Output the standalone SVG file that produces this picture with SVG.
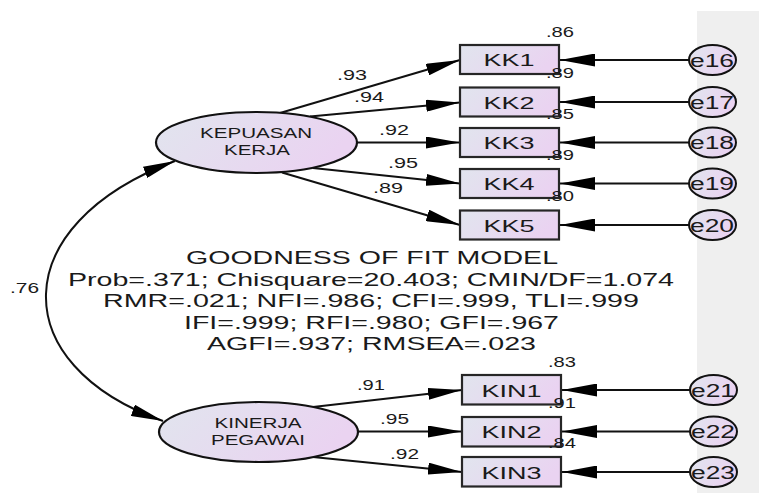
<svg xmlns="http://www.w3.org/2000/svg" width="759" height="493" viewBox="0 0 759 493">
<style>
  text { font-family: "Liberation Sans", Arial, sans-serif; fill: #1a1a1a; }
  .box { fill: url(#g); stroke: #262626; stroke-width: 2.2; }
  .lat { fill: url(#g); stroke: #111; stroke-width: 2.2; }
  .err { fill: url(#g); stroke: #111; stroke-width: 2; }
  .c { fill: none; stroke: #111; stroke-width: 2; }
  .lbl { font-size: 17px; text-anchor: middle; }
  .el { font-size: 18px; text-anchor: middle; }
  .ll { font-size: 14px; text-anchor: middle; }
  .num { font-size: 15px; }
  .res { font-size: 15px; text-anchor: end; }
  .fit { font-size: 19px; text-anchor: middle; }
</style>
<defs>
  <linearGradient id="g" x1="0" y1="0" x2="1" y2="0.3">
    <stop offset="0" stop-color="#e1e5ee"/>
    <stop offset="1" stop-color="#ead3f1"/>
  </linearGradient>
  <marker id="a" markerUnits="userSpaceOnUse" markerWidth="34" markerHeight="12" refX="34" refY="6" orient="auto">
    <path d="M0,0 L34,6 L0,12 Z" fill="#000"/>
  </marker>
  <marker id="as" markerUnits="userSpaceOnUse" markerWidth="32" markerHeight="12" refX="32" refY="6" orient="auto-start-reverse">
    <path d="M0,0 L32,6 L0,12 Z" fill="#000"/>
  </marker>
  <marker id="ae" markerUnits="userSpaceOnUse" markerWidth="35" markerHeight="13" refX="35" refY="6.5" orient="auto">
    <path d="M0,0 L35,6.5 L0,13 Z" fill="#000"/>
  </marker>
</defs>
<rect x="697" y="11" width="62" height="482" fill="#efefef"/>

<g id="connectors">
  <path class="c" d="M175,161 C5,225 5,365 163,421" marker-start="url(#as)" marker-end="url(#as)"/>
  <line class="c" x1="280" y1="113" x2="460" y2="60" marker-end="url(#a)"/>
  <line class="c" x1="310" y1="116.5" x2="460" y2="102.5" marker-end="url(#a)"/>
  <line class="c" x1="357" y1="142.5" x2="460" y2="142.5" marker-end="url(#a)"/>
  <line class="c" x1="313" y1="168" x2="460" y2="183.5" marker-end="url(#a)"/>
  <line class="c" x1="282" y1="172.5" x2="460" y2="225" marker-end="url(#a)"/>
  <line class="c" x1="313" y1="407" x2="462" y2="390" marker-end="url(#a)"/>
  <line class="c" x1="358" y1="431.5" x2="462" y2="431.5" marker-end="url(#a)"/>
  <line class="c" x1="313" y1="457" x2="462" y2="472" marker-end="url(#a)"/>
  <line class="c" x1="689" y1="60" x2="560" y2="60" marker-end="url(#ae)"/>
  <line class="c" x1="689" y1="102" x2="560" y2="102" marker-end="url(#ae)"/>
  <line class="c" x1="689" y1="142.5" x2="560" y2="142.5" marker-end="url(#ae)"/>
  <line class="c" x1="689" y1="183.5" x2="560" y2="183.5" marker-end="url(#ae)"/>
  <line class="c" x1="689" y1="225" x2="560" y2="225" marker-end="url(#ae)"/>
  <line class="c" x1="690" y1="390" x2="562" y2="390" marker-end="url(#ae)"/>
  <line class="c" x1="690" y1="431.5" x2="562" y2="431.5" marker-end="url(#ae)"/>
  <line class="c" x1="690" y1="472" x2="562" y2="472" marker-end="url(#ae)"/>
  <text class="num" x="337" y="80" textLength="30" lengthAdjust="spacingAndGlyphs">.93</text>
  <text class="num" x="354" y="102" textLength="30" lengthAdjust="spacingAndGlyphs">.94</text>
  <text class="num" x="379" y="135" textLength="30" lengthAdjust="spacingAndGlyphs">.92</text>
  <text class="num" x="388" y="168" textLength="30" lengthAdjust="spacingAndGlyphs">.95</text>
  <text class="num" x="373" y="193" textLength="30" lengthAdjust="spacingAndGlyphs">.89</text>
  <text class="num" x="357" y="390" textLength="28" lengthAdjust="spacingAndGlyphs">.91</text>
  <text class="num" x="380" y="424" textLength="29" lengthAdjust="spacingAndGlyphs">.95</text>
  <text class="num" x="390" y="459" textLength="29" lengthAdjust="spacingAndGlyphs">.92</text>
  <text class="num" x="10" y="293" textLength="29" lengthAdjust="spacingAndGlyphs">.76</text>
</g>

<g id="KEPUASAN_KERJA">
  <ellipse class="lat" cx="256.5" cy="142.5" rx="100.5" ry="30.5"/>
  <text class="ll" x="256" y="138" textLength="112" lengthAdjust="spacingAndGlyphs">KEPUASAN</text>
  <text class="ll" x="257" y="155" textLength="66" lengthAdjust="spacingAndGlyphs">KERJA</text>
</g>
<g id="KINERJA_PEGAWAI">
  <ellipse class="lat" cx="258.5" cy="432" rx="99.5" ry="30"/>
  <text class="ll" x="258" y="428" textLength="87" lengthAdjust="spacingAndGlyphs">KINERJA</text>
  <text class="ll" x="258" y="445" textLength="94" lengthAdjust="spacingAndGlyphs">PEGAWAI</text>
</g>

<g id="KK1"><rect class="box" x="460" y="45" width="99" height="29"/><text class="lbl" x="509" y="66" textLength="51" lengthAdjust="spacingAndGlyphs">KK1</text></g>
<g id="KK2"><rect class="box" x="460" y="87.5" width="99" height="29"/><text class="lbl" x="509" y="108.5" textLength="51" lengthAdjust="spacingAndGlyphs">KK2</text></g>
<g id="KK3"><rect class="box" x="460" y="128" width="99" height="29"/><text class="lbl" x="509" y="149" textLength="51" lengthAdjust="spacingAndGlyphs">KK3</text></g>
<g id="KK4"><rect class="box" x="460" y="169" width="99" height="29"/><text class="lbl" x="509" y="190" textLength="51" lengthAdjust="spacingAndGlyphs">KK4</text></g>
<g id="KK5"><rect class="box" x="460" y="210.5" width="99" height="29"/><text class="lbl" x="509" y="231.5" textLength="51" lengthAdjust="spacingAndGlyphs">KK5</text></g>
<g id="KIN1"><rect class="box" x="462" y="375" width="99" height="29.5"/><text class="lbl" x="511.5" y="396.5" textLength="60" lengthAdjust="spacingAndGlyphs">KIN1</text></g>
<g id="KIN2"><rect class="box" x="462" y="417" width="99" height="29.5"/><text class="lbl" x="511.5" y="438" textLength="60" lengthAdjust="spacingAndGlyphs">KIN2</text></g>
<g id="KIN3"><rect class="box" x="462" y="457" width="99" height="29.5"/><text class="lbl" x="511.5" y="478.5" textLength="60" lengthAdjust="spacingAndGlyphs">KIN3</text></g>

<g id="residuals">
  <text class="res" x="574" y="37" textLength="28" lengthAdjust="spacingAndGlyphs">.86</text>
  <text class="res" x="574" y="78" textLength="28" lengthAdjust="spacingAndGlyphs">.89</text>
  <text class="res" x="574" y="119" textLength="28" lengthAdjust="spacingAndGlyphs">.85</text>
  <text class="res" x="574" y="160" textLength="28" lengthAdjust="spacingAndGlyphs">.89</text>
  <text class="res" x="574" y="201" textLength="28" lengthAdjust="spacingAndGlyphs">.80</text>
  <text class="res" x="576" y="367" textLength="28" lengthAdjust="spacingAndGlyphs">.83</text>
  <text class="res" x="576" y="408" textLength="28" lengthAdjust="spacingAndGlyphs">.91</text>
  <text class="res" x="576" y="448" textLength="28" lengthAdjust="spacingAndGlyphs">.84</text>
</g>

<g id="e16"><ellipse class="err" cx="712.5" cy="60" rx="23.5" ry="15"/><text class="el" x="712" y="66.5" textLength="44" lengthAdjust="spacingAndGlyphs">e16</text></g>
<g id="e17"><ellipse class="err" cx="712.5" cy="102" rx="23.5" ry="15"/><text class="el" x="712" y="108.5" textLength="44" lengthAdjust="spacingAndGlyphs">e17</text></g>
<g id="e18"><ellipse class="err" cx="712.5" cy="142.5" rx="23.5" ry="15"/><text class="el" x="712" y="149" textLength="44" lengthAdjust="spacingAndGlyphs">e18</text></g>
<g id="e19"><ellipse class="err" cx="712.5" cy="183.5" rx="23.5" ry="15"/><text class="el" x="712" y="190" textLength="44" lengthAdjust="spacingAndGlyphs">e19</text></g>
<g id="e20"><ellipse class="err" cx="712.5" cy="225" rx="23.5" ry="15"/><text class="el" x="712" y="231.5" textLength="44" lengthAdjust="spacingAndGlyphs">e20</text></g>
<g id="e21"><ellipse class="err" cx="713.5" cy="390" rx="23.5" ry="15"/><text class="el" x="713" y="396.5" textLength="44" lengthAdjust="spacingAndGlyphs">e21</text></g>
<g id="e22"><ellipse class="err" cx="713.5" cy="431.5" rx="23.5" ry="15"/><text class="el" x="713" y="438" textLength="44" lengthAdjust="spacingAndGlyphs">e22</text></g>
<g id="e23"><ellipse class="err" cx="713.5" cy="472" rx="23.5" ry="15"/><text class="el" x="713" y="478.5" textLength="44" lengthAdjust="spacingAndGlyphs">e23</text></g>

<g id="fit">
  <text class="fit" x="372" y="264" textLength="372" lengthAdjust="spacingAndGlyphs">GOODNESS OF FIT MODEL</text>
  <text class="fit" x="371" y="285.5" textLength="606" lengthAdjust="spacingAndGlyphs">Prob=.371; Chisquare=20.403; CMIN/DF=1.074</text>
  <text class="fit" x="371" y="307" textLength="536" lengthAdjust="spacingAndGlyphs">RMR=.021; NFI=.986; CFI=.999, TLI=.999</text>
  <text class="fit" x="371.5" y="328.5" textLength="375" lengthAdjust="spacingAndGlyphs">IFI=.999; RFI=.980; GFI=.967</text>
  <text class="fit" x="371.5" y="350" textLength="329" lengthAdjust="spacingAndGlyphs">AGFI=.937; RMSEA=.023</text>
</g>
</svg>
